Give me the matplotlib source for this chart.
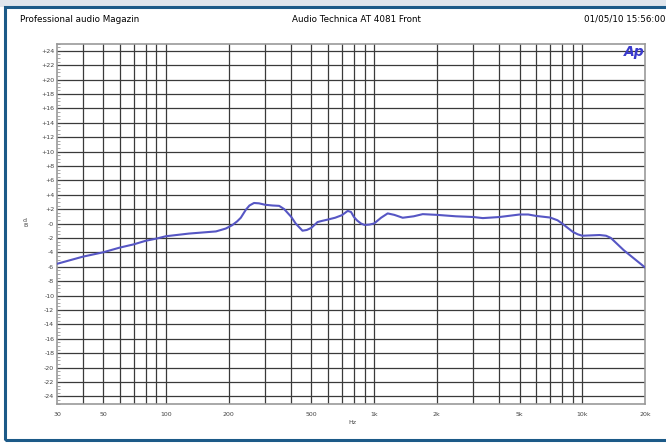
import numpy as np
import matplotlib
matplotlib.use("Agg")
import matplotlib.pyplot as plt
from matplotlib.patches import Rectangle
from matplotlib.ticker import FixedLocator, MultipleLocator, NullFormatter

# frequency response (Hz, dB)
freq = [30, 40, 50, 60, 70, 80, 90, 100, 129, 174, 194, 208, 220, 229, 242,
        252, 265, 280, 300, 325, 350, 370, 400, 420, 453, 475, 500, 535, 560,
        600, 650, 700, 747, 775, 800, 830, 865, 900, 950, 1000, 1080, 1162,
        1250, 1372, 1550, 1712, 2000, 2472, 3000, 3328, 4000, 5000, 5500,
        6000, 7000, 7600, 8000, 8500, 9000, 9500, 10000, 11000, 12100, 13000,
        13700, 15800, 20000]
level = [-5.6, -4.6, -4.0, -3.35, -2.9, -2.4, -2.1, -1.77, -1.4, -1.1, -0.7,
         -0.24, 0.3, 0.8, 1.9, 2.5, 2.85, 2.8, 2.6, 2.5, 2.45, 2.0, 0.92, 0.0,
         -1.0, -0.9, -0.6, 0.2, 0.35, 0.55, 0.8, 1.15, 1.75, 1.6, 0.9, 0.4,
         0.0, -0.2, -0.15, 0.0, 0.8, 1.4, 1.2, 0.8, 1.0, 1.3, 1.2, 1.0, 0.9,
         0.75, 0.9, 1.25, 1.25, 1.05, 0.83, 0.45, 0.0, -0.6, -1.16, -1.5, -1.7,
         -1.65, -1.6, -1.7, -2.0, -3.7, -6.1]

xtick_vals = [30, 50, 100, 200, 500, 1000, 2000, 5000, 10000, 20000]
xtick_text = ["30", "50", "100", "200", "500", "1k", "2k", "5k", "10k", "20k"]
xgrid = [40, 50, 60, 70, 80, 90, 100, 200, 300, 400, 500, 600, 700, 800, 900,
         1000, 2000, 3000, 4000, 5000, 6000, 7000, 8000, 9000, 10000]
ytick_vals = list(range(-24, 25, 2))


def db_label(v):
    if v > 0:
        return "+%d" % v
    if v == 0:
        return "-0"
    return "%d" % v


W, H = 666, 446
fig = plt.figure(figsize=(W / 100, H / 100), dpi=100)
fig.patch.set_facecolor("white")

# light strip on top and dark blue frame
fig.add_artist(Rectangle((0, 1 - 7 / H), 1, 7 / H, transform=fig.transFigure,
                         facecolor="#dfe5ec", edgecolor="none", zorder=0))
fig.add_artist(Rectangle((5 / W, 6 / H), 1.0, 1 - 13 / H, transform=fig.transFigure,
                         facecolor="none", edgecolor="#1c5a88", linewidth=2.2, zorder=1))

ax = fig.add_axes([57 / W, (H - 403.5) / H, (645 - 57) / W, (403.5 - 43.5) / H])
ax.set_xscale("log")
ax.set_xlim(30, 20000)
ax.set_ylim(-25, 25)

for f in xgrid:
    ax.axvline(f, color="#3a3a3a", linewidth=0.9, zorder=1)
for v in ytick_vals:
    ax.axhline(v, color="#3a3a3a", linewidth=0.9, zorder=1)

ax.plot(freq, level, color="#5656c4", linewidth=1.5, zorder=3,
        solid_joinstyle="round")

ax.xaxis.set_major_locator(FixedLocator(xtick_vals))
ax.set_xticklabels(xtick_text)
ax.xaxis.set_minor_formatter(NullFormatter())
ax.tick_params(axis="x", which="both", length=0, labelsize=4.5, pad=6, colors="#444444")

ax.set_yticks(ytick_vals)
ax.set_yticklabels([db_label(v) for v in ytick_vals])
ax.yaxis.set_minor_locator(MultipleLocator(0.5))
ax.tick_params(axis="y", which="major", direction="in", length=4, width=0.6,
               labelsize=4.5, pad=2, colors="#444444")
ax.tick_params(axis="y", which="minor", direction="in", length=2, width=0.4,
               colors="#666666")

for s in ax.spines.values():
    s.set_color("#999999")
    s.set_linewidth(1.2)

fig.text(352 / W, 1 - 423 / H, "Hz", fontsize=4.5, color="#444444", ha="center", va="center")
fig.text(25 / W, 1 - 223 / H, "d\nB", fontsize=4.5, color="#444444", ha="center",
         va="center", linespacing=1.0, rotation=0)

fig.text(20 / W, 1 - 19 / H, "Professional audio Magazin", fontsize=6.3, ha="left", va="center")
fig.text(356 / W, 1 - 19 / H, "Audio Technica AT 4081 Front", fontsize=6.3, ha="center", va="center")
fig.text(666 / W, 1 - 19 / H, "01/05/10 15:56:00", fontsize=6.3, ha="right", va="center")

fig.text(645 / W, 1 - 52 / H, "Ap", fontsize=10, color="#3a3acc", fontweight="bold",
         style="italic", ha="right", va="center")

fig.savefig("out.png", dpi=100)
